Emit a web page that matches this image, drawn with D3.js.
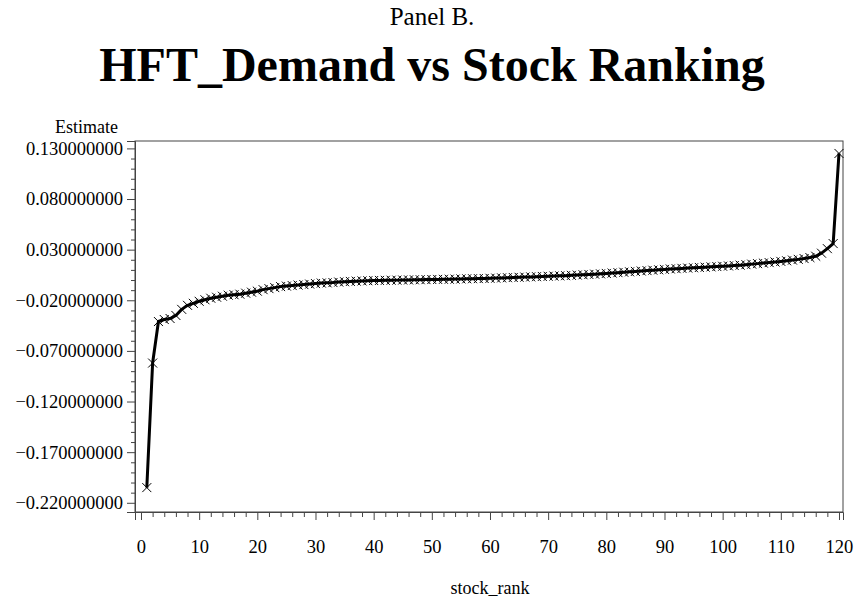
<!DOCTYPE html>
<html>
<head>
<meta charset="utf-8">
<script src="https://cdn.jsdelivr.net/npm/d3@7"></script>
<style>
  html, body { margin: 0; padding: 0; background: #fff; }
  svg { display: block; }
  text { font-family: "Liberation Serif", "Times New Roman", serif; fill: #000; }
</style>
</head>
<body>
<svg id="chart" width="859" height="601"></svg>
<script>
// ---- Data ----
const stockRank = d3.range(1, 121);
const estimate = [
  -0.205, -0.082, -0.041, -0.039, -0.038, -0.035, -0.029, -0.025, -0.023, -0.021,
  -0.0195, -0.018, -0.017, -0.016, -0.015, -0.0145, -0.014, -0.013, -0.012, -0.011,
  -0.0095, -0.0085, -0.0075, -0.0065, -0.006, -0.0055, -0.005, -0.0045, -0.004, -0.0035,
  -0.003, -0.0028, -0.0025, -0.002, -0.0017, -0.0014, -0.0011, -0.0009, -0.0007, -0.0005,
  -0.0004, -0.0003, -0.0002, -0.0001, 0.0000, 0.0001, 0.0002, 0.0003, 0.0004, 0.0005,
  0.0006, 0.0007, 0.0008, 0.0009, 0.0011, 0.0012, 0.0013, 0.0014, 0.0015, 0.0017,
  0.0019, 0.0021, 0.0023, 0.0025, 0.0027, 0.0029, 0.0031, 0.0033, 0.0035, 0.0037,
  0.0039, 0.0041, 0.0043, 0.0046, 0.0049, 0.0052, 0.0055, 0.0058, 0.0061, 0.0065,
  0.0069, 0.0073, 0.0077, 0.0081, 0.0085, 0.0089, 0.0093, 0.0097, 0.0101, 0.0105,
  0.0109, 0.0112, 0.0115, 0.0118, 0.0121, 0.0124, 0.0127, 0.0130, 0.0133, 0.0136,
  0.0139, 0.0143, 0.0147, 0.0152, 0.0157, 0.0162, 0.0167, 0.0172, 0.0178, 0.0184,
  0.0190, 0.0197, 0.0204, 0.0212, 0.0222, 0.0235, 0.0265, 0.031, 0.036, 0.125
];
const xTicks = d3.range(0, 121, 10);
const xMinorTicks = d3.range(0, 121, 2);
const yTicks = [-0.22, -0.17, -0.12, -0.07, -0.02, 0.03, 0.08, 0.13];
const yMinorTicks = d3.range(-22, 14, 1).map(d => d / 100);

const titleTop = "Panel B.";
const titleMain = "HFT_Demand vs Stock Ranking";
const xLabel = "stock_rank";
const yLabel = "Estimate";

// ---- Layout ----
const svg = d3.select("#chart");
const mLeft = 135, mRight = 843, mTop = 141, mBottom = 512;

const x = d3.scaleLinear().domain([-1.03, 120.69]).range([mLeft, mRight]);
const y = d3.scaleLinear().domain([-0.2291, 0.1373]).range([mBottom, mTop]);

// Titles
svg.append("text").attr("x", 432).attr("y", 25).attr("text-anchor", "middle")
  .style("font-size", "25px").text(titleTop);
svg.append("text").attr("x", 432).attr("y", 81).attr("text-anchor", "middle")
  .style("font-size", "48px").style("font-weight", "bold").text(titleMain);

// Frame
svg.append("rect").attr("x", mLeft).attr("y", mTop)
  .attr("width", mRight - mLeft).attr("height", mBottom - mTop)
  .attr("fill", "none").attr("stroke", "#444").attr("stroke-width", 1);

// Axes
const axisColor = "#444";
const yAxis = d3.axisLeft(y).tickValues(yTicks).tickSize(8).tickPadding(4)
  .tickFormat(d3.format(".9f"));
const gy = svg.append("g").attr("transform", `translate(${mLeft},0)`).call(yAxis);
gy.selectAll("text").style("font-size", "18.5px")
  .style("font-family", '"Liberation Serif", "Times New Roman", serif').attr("fill", "#000");
const gyMinor = svg.append("g").attr("transform", `translate(${mLeft},0)`)
  .call(d3.axisLeft(y).tickValues(yMinorTicks.filter(v => !yTicks.some(t => Math.abs(t - v) < 1e-9))).tickSize(4).tickFormat(""));

const xAxis = d3.axisBottom(x).tickValues(xTicks).tickSize(8).tickPadding(20);
const gx = svg.append("g").attr("transform", `translate(0,${mBottom})`).call(xAxis);
gx.selectAll("text").style("font-size", "18.5px")
  .style("font-family", '"Liberation Serif", "Times New Roman", serif').attr("fill", "#000");
const gxMinor = svg.append("g").attr("transform", `translate(0,${mBottom})`)
  .call(d3.axisBottom(x).tickValues(xMinorTicks.filter(v => v % 10 !== 0)).tickSize(5).tickFormat(""));

[gy, gyMinor, gx, gxMinor].forEach(g => {
  g.selectAll("path.domain").attr("stroke", axisColor);
  g.selectAll(".tick line").attr("stroke", axisColor);
});
gyMinor.select("path.domain").remove();
gxMinor.select("path.domain").remove();

// Axis labels
svg.append("text").attr("x", 118).attr("y", 133).attr("text-anchor", "end")
  .style("font-size", "18px").text(yLabel);
svg.append("text").attr("x", 490).attr("y", 594).attr("text-anchor", "middle")
  .style("font-size", "18px").text(xLabel);

// Line
const data = stockRank.map((r, i) => ({ r, v: estimate[i] }));
const line = d3.line().x(d => x(d.r)).y(d => y(d.v));
svg.append("path").datum(data).attr("d", line)
  .attr("fill", "none").attr("stroke", "#000").attr("stroke-width", 3)
  .attr("stroke-linejoin", "round");

// Markers (×)
const s = 4.5;
svg.append("g").selectAll("path.mk").data(data).join("path")
  .attr("class", "mk")
  .attr("d", d => {
    const cx = x(d.r), cy = y(d.v);
    return `M${cx - s},${cy - s}L${cx + s},${cy + s}M${cx - s},${cy + s}L${cx + s},${cy - s}`;
  })
  .attr("stroke", "#000").attr("stroke-width", 1).attr("fill", "none");
</script>
</body>
</html>
